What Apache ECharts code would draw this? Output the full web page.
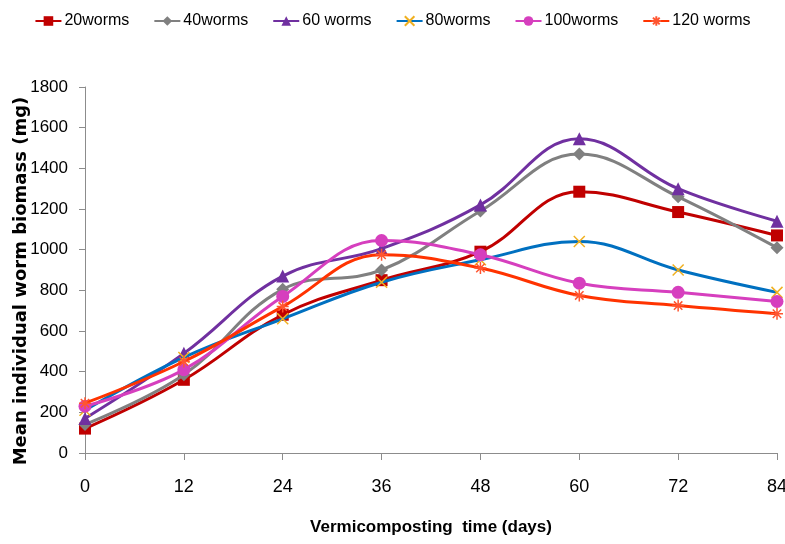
<!DOCTYPE html>
<html><head><meta charset="utf-8">
<script src="https://cdn.jsdelivr.net/npm/echarts@6/dist/echarts.min.js"></script>
<style>html,body{margin:0;padding:0;background:#fff}#c{width:785px;height:544px}</style>
</head><body><div id="c"></div>
<script>
const days = [0, 12, 24, 36, 48, 60, 72, 84];
const names = ['20worms', '40worms', '60 worms', '80worms', '100worms', '120 worms'];
const w20 = [120, 360, 680, 850, 990, 1285, 1185, 1070];
const w40 = [140, 385, 805, 900, 1190, 1470, 1260, 1010];
const w60 = [170, 490, 870, 1005, 1220, 1545, 1300, 1140];
const w80 = [210, 470, 660, 840, 950, 1040, 900, 790];
const w100 = [230, 410, 770, 1045, 975, 835, 790, 745];
const w120 = [245, 450, 720, 975, 910, 775, 725, 685];
const yTicks = [0, 200, 400, 600, 800, 1000, 1200, 1400, 1600, 1800];

const font = "'Liberation Sans',Arial,sans-serif";
const xPath = 'path://M0,0L10,10M10,0L0,10';
const starPath = 'path://M5,0L5,10M0,5L10,5M1.5,1.5L8.5,8.5M8.5,1.5L1.5,8.5';
const cfg = [
  {data: w20, color: '#C00000', sym: 'rect', size: 12, mc: '#C00000'},
  {data: w40, color: '#808080', sym: 'diamond', size: 13, mc: '#808080'},
  {data: w60, color: '#7030A0', sym: 'triangle', size: 13, mc: '#7030A0'},
  {data: w80, color: '#0070C0', sym: xPath, size: 11, mc: '#F0B020', stroke: true},
  {data: w100, color: '#D63FBE', sym: 'circle', size: 13, mc: '#D63FBE'},
  {data: w120, color: '#FF3300', sym: starPath, size: 12, mc: '#FF5530', stroke: true}
];
const series = cfg.map((c, i) => ({
  name: names[i], type: 'line', smooth: 0.4,
  data: c.data.map((v, j) => [days[j], v]),
  symbol: c.sym, symbolSize: c.size,
  lineStyle: {color: c.color, width: 3},
  itemStyle: c.stroke ? {color: 'rgba(0,0,0,0)', borderColor: c.mc, borderWidth: 1.5} : {color: c.mc, borderWidth: 0},
  z: 2 + i
}));
const chart = echarts.init(document.getElementById('c'), null, {renderer: 'canvas'});
chart.setOption({
  animation: false,
  backgroundColor: '#fff',
  legend: {
    top: 8, left: 'center', itemWidth: 26, itemHeight: 12, itemGap: 24,
    textStyle: {fontFamily: font, fontSize: 16, color: '#000', padding: [0, 0, 0, -2]},
    data: names
  },
  grid: {left: 85, right: 8, top: 87, bottom: 91, containLabel: false, outerBoundsMode: 'none'},
  xAxis: {
    type: 'value', min: 0, max: 84, interval: 12,
    name: 'Vermicomposting  time (days)', nameLocation: 'middle', nameGap: 66, nameMoveOverlap: false,
    nameTextStyle: {fontFamily: font, fontSize: 17, fontWeight: 'bold', color: '#000'},
    axisLine: {show: true, lineStyle: {color: '#8C8C8C', width: 1}},
    axisTick: {show: true, length: 7, lineStyle: {color: '#8C8C8C'}},
    axisLabel: {fontFamily: font, fontSize: 18, color: '#000', margin: 25},
    splitLine: {show: false}
  },
  yAxis: {
    type: 'value', min: 0, max: 1800, interval: 200,
    name: 'Mean individual worm biomass (mg)', nameLocation: 'middle', nameGap: 55, nameMoveOverlap: false,
    nameTextStyle: {fontFamily: "'DejaVu Sans',Verdana,sans-serif", fontSize: 18, fontWeight: 'bold', color: '#000', padding: [0, 22, 0, 0]},
    axisLine: {show: true, lineStyle: {color: '#8C8C8C', width: 1}},
    axisTick: {show: true, length: 6, lineStyle: {color: '#8C8C8C'}},
    axisLabel: {fontFamily: font, fontSize: 17, color: '#000', margin: 17,
      formatter: v => yTicks.includes(v) ? String(v) : ''},
    splitLine: {show: false}
  },
  series: series
});
</script></body></html>
